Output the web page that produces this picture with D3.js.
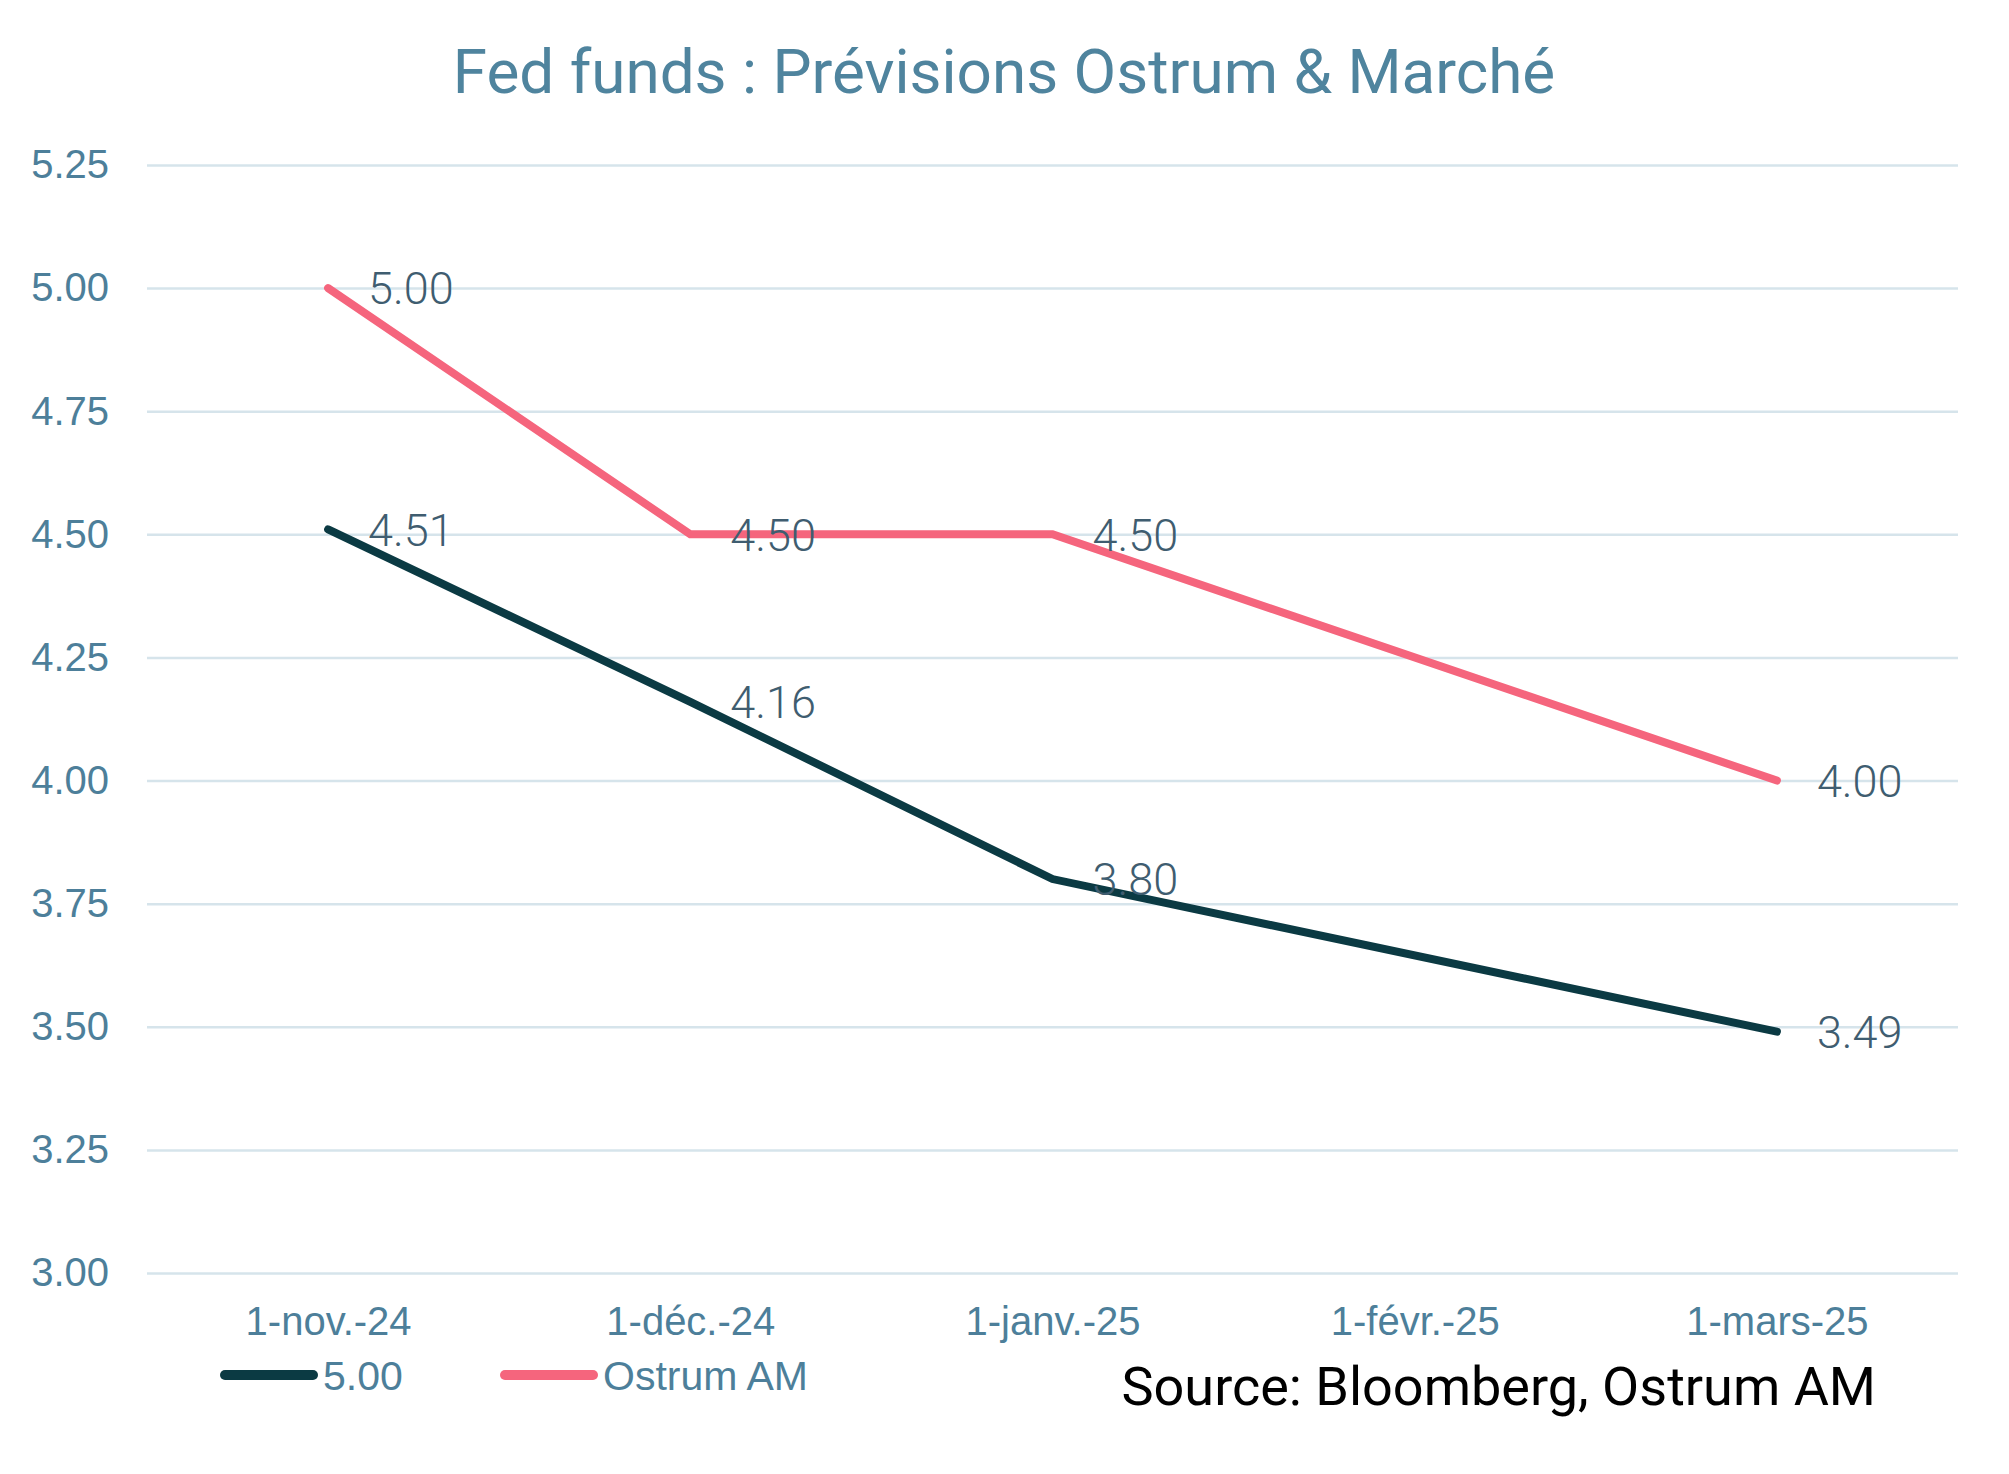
<!DOCTYPE html>
<html>
<head>
<meta charset="utf-8">
<script src="https://cdn.jsdelivr.net/npm/d3@7"></script>
<style>
  html, body { margin: 0; padding: 0; background: #ffffff; }
  svg { display: block; }
</style>
</head>
<body>
<svg id="chart" width="2009" height="1474"></svg>
<script>
const title = "Fed funds : Prévisions Ostrum & Marché";
const categories = ["1-nov.-24", "1-déc.-24", "1-janv.-25", "1-févr.-25", "1-mars-25"];
const marketSeriesName = "5.00";
const marketValues = [4.51, 4.16, 3.80, null, 3.49];
const ostrumSeriesName = "Ostrum AM";
const ostrumValues = [5.00, 4.50, 4.50, null, 4.00];
const yTicks = [3.00, 3.25, 3.50, 3.75, 4.00, 4.25, 4.50, 4.75, 5.00, 5.25];
const sourceText = "Source: Bloomberg, Ostrum AM";

const svg = d3.select("#chart");
const plot = { left: 147, right: 1958, top: 165, bottom: 1273 };

const axisColor = "#4d7f9a";
const labelColor = "#3f5d70";
const gridColor = "#d6e4eb";
const colMarket = "#0b3a43";
const colOstrum = "#f5657d";

const x = d3.scalePoint().domain(categories).range([plot.left, plot.right]).padding(0.5);
const y = d3.scaleLinear().domain([3, 5.25]).range([plot.bottom, plot.top]);

// Title
svg.append("text")
  .attr("x", 1004).attr("y", 93)
  .attr("text-anchor", "middle")
  .attr("font-family", "Roboto, 'Liberation Sans', sans-serif")
  .attr("font-size", 62)
  .attr("fill", "#4f849e")
  .text(title);

// Y axis with gridlines
const yAxis = d3.axisLeft(y)
  .tickValues(yTicks)
  .tickFormat(d3.format(".2f"))
  .tickSizeInner(-(plot.right - plot.left))
  .tickSizeOuter(0)
  .tickPadding(38);

const gy = svg.append("g").attr("transform", `translate(${plot.left},0)`).call(yAxis);
gy.select(".domain").remove();
gy.selectAll(".tick line").attr("stroke", gridColor).attr("stroke-width", 2.5);
gy.selectAll(".tick text")
  .attr("fill", axisColor)
  .attr("font-family", "'Liberation Sans', Arial, sans-serif")
  .attr("font-size", 40);

// X axis
const xAxis = d3.axisBottom(x).tickSize(0).tickPadding(34);
const gx = svg.append("g").attr("transform", `translate(0,${plot.bottom})`).call(xAxis);
gx.select(".domain").remove();
gx.selectAll(".tick text")
  .attr("fill", axisColor)
  .attr("font-family", "'Liberation Sans', Arial, sans-serif")
  .attr("font-size", 40);

// Lines
const series = [
  { name: marketSeriesName, values: marketValues, color: colMarket },
  { name: ostrumSeriesName, values: ostrumValues, color: colOstrum }
];

const line = d3.line()
  .x(d => x(d.cat))
  .y(d => y(d.v));

series.forEach(s => {
  const pts = categories.map((c, i) => ({ cat: c, v: s.values[i] })).filter(d => d.v !== null);
  svg.append("path")
    .datum(pts)
    .attr("d", line)
    .attr("fill", "none")
    .attr("stroke", s.color)
    .attr("stroke-width", 8)
    .attr("stroke-linecap", "round")
    .attr("stroke-linejoin", "miter");
});

// Data labels
series.forEach(s => {
  const pts = categories.map((c, i) => ({ cat: c, v: s.values[i] })).filter(d => d.v !== null);
  svg.append("g").selectAll("text")
    .data(pts)
    .join("text")
    .attr("x", d => x(d.cat) + 40)
    .attr("y", d => y(d.v))
    .attr("dy", "0.36em")
    .attr("font-family", "Roboto, 'Liberation Sans', sans-serif")
    .attr("font-weight", 300)
    .attr("font-size", 45)
    .attr("fill", labelColor)
    .text(d => d3.format(".2f")(d.v));
});

// Legend
const legend = svg.append("g");
const legendItems = [
  { name: marketSeriesName, color: colMarket, x0: 225 },
  { name: ostrumSeriesName, color: colOstrum, x0: 505 }
];
legendItems.forEach(it => {
  legend.append("line")
    .attr("x1", it.x0).attr("x2", it.x0 + 88)
    .attr("y1", 1375).attr("y2", 1375)
    .attr("stroke", it.color)
    .attr("stroke-width", 10)
    .attr("stroke-linecap", "round");
  legend.append("text")
    .attr("x", it.x0 + 98).attr("y", 1375)
    .attr("dy", "0.36em")
    .attr("font-family", "'Liberation Sans', Arial, sans-serif")
    .attr("font-size", 41)
    .attr("fill", axisColor)
    .text(it.name);
});

// Source
svg.append("text")
  .attr("x", 1876).attr("y", 1405)
  .attr("text-anchor", "end")
  .attr("font-family", "Roboto, 'Liberation Sans', sans-serif")
  .attr("font-size", 54)
  .attr("fill", "#000000")
  .text(sourceText);
</script>
</body>
</html>
